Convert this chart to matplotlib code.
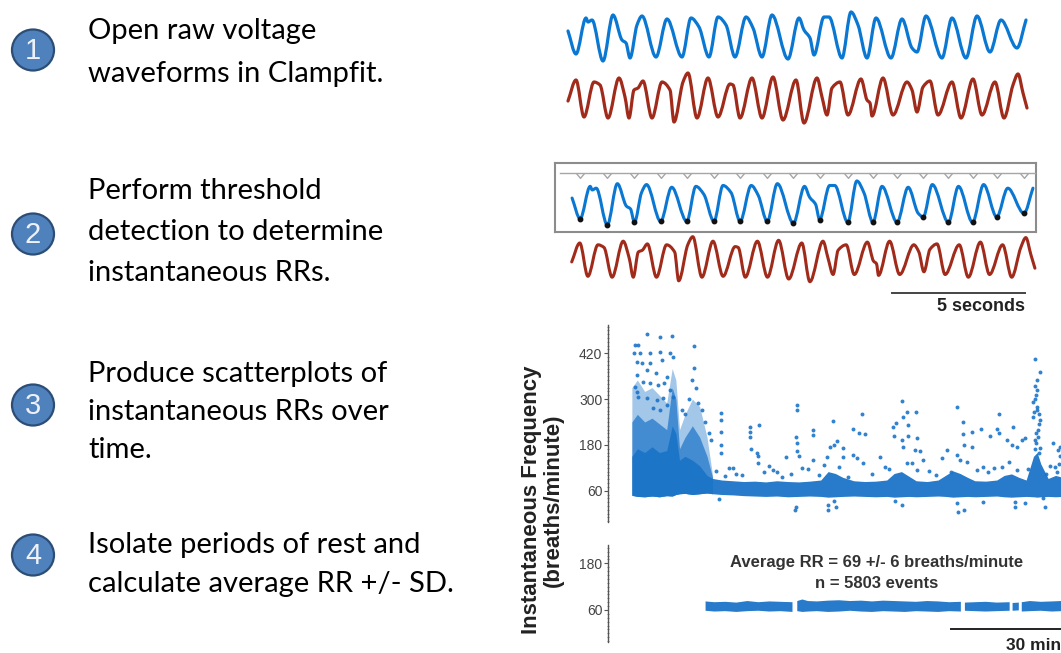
import numpy as np
import matplotlib
matplotlib.use('Agg')
import matplotlib.pyplot as plt
from matplotlib.patches import Ellipse, PathPatch
from matplotlib.path import Path
from matplotlib.ticker import MultipleLocator, FixedLocator

W, H = 1061, 653

# --- step list on the left ---
step_numbers = ['1', '2', '3', '4']
step_lines = [
    ['Open raw voltage', 'waveforms in Clampfit.'],
    ['Perform threshold', 'detection to determine', 'instantaneous RRs.'],
    ['Produce scatterplots of', 'instantaneous RRs over', 'time.'],
    ['Isolate periods of rest and', 'calculate average RR +/- SD.'],
]

# --- raw waveforms (arbitrary units) ---
blue_t = [13, 21, 31, 33, 37, 48, 58, 67, 71, 75, 82, 87, 101, 112, 127, 136, 144, 154, 163, 171,
          180, 191, 198, 207, 217, 233, 244, 249, 255, 259, 269, 274, 287, 296, 303, 312, 321, 336, 347, 357,
          362, 371, 387, 397, 411, 422, 435, 446, 462, 471]
blue_amp = [34, 11, 47, 43, 45, 4, 50, 25, 22, 7, 40, 49, 8, 46, 8, 47, 38, 8, 48, 40,
            8, 48, 37, 8, 50, 6, 47, 35, 27, 10, 48, 48, 7, 53, 40, 7, 47, 7, 46, 17,
            13, 49, 7, 47, 7, 49, 13, 45, 17, 45]
red_t = [13, 21, 29, 39, 45, 53, 64, 70, 74, 79, 83, 88, 97, 107, 115, 119, 128, 133, 142, 153,
         163, 175, 178, 185, 197, 207, 218, 228, 241, 249, 262, 267, 272, 277, 285, 293, 306, 312, 315, 317,
         328, 338, 352, 357, 362, 368, 375, 383, 397, 406, 418, 427, 440, 449, 458, 463, 468, 472]
red_amp = [24, 45, 8, 43, 40, 7, 47, 28, 7, 35, 37, 44, 7, 43, 35, 3, 43, 52, 7, 47,
           8, 41, 40, 7, 47, 7, 48, 5, 45, 2, 47, 28, 10, 37, 43, 10, 46, 25, 22, 9,
           47, 10, 43, 35, 13, 38, 44, 10, 43, 7, 46, 10, 43, 7, 40, 51, 32, 17]
detect_threshold = 20
threshold_trace_level = 62
units_per_sec = 26.4

# --- instantaneous frequency (minutes, breaths/minute) ---
core_t = [0.5, 2, 4, 6, 8, 10, 11.5, 12.5, 13.5, 15, 17, 19, 21, 22.5, 25, 28, 31, 34, 37, 40,
          43, 46, 49, 52, 54, 56, 58, 61, 64, 67, 70, 72, 74, 76, 78, 81, 84, 86, 88, 90,
          92, 94, 97, 100, 102, 104, 106, 108, 110, 111, 112, 114, 116, 118]
core_lo = [48, 45, 44, 46, 44, 47, 46, 50, 52, 53, 50, 52, 54, 52, 50, 49, 47, 46, 45, 46,
           44, 45, 46, 45, 43, 44, 45, 46, 45, 44, 45, 43, 44, 45, 44, 45, 46, 45, 43, 44,
           45, 44, 45, 46, 44, 43, 44, 45, 44, 43, 44, 45, 44, 45]
core_hi = [150, 170, 160, 175, 160, 165, 230, 210, 140, 150, 140, 125, 100, 92, 88, 86, 84, 85, 83, 86,
           84, 83, 85, 88, 110, 105, 95, 86, 84, 85, 88, 105, 110, 98, 86, 84, 88, 100, 112, 105,
           95, 86, 85, 88, 100, 104, 95, 88, 150, 160, 130, 92, 100, 95]
# sparser part of the early burst (same time points as the first 14 of core_t)
cloud_t = [0.5, 2, 4, 6, 8, 10, 11.5, 12.5, 13.5, 15, 17, 19, 21, 22.5]
cloud_mid = [240, 260, 240, 250, 235, 220, 330, 300, 170, 200, 230, 200, 150, 95]
cloud_top = [330, 350, 320, 330, 310, 290, 380, 350, 220, 260, 300, 280, 200, 100]

outlier_t = [1.4, 2.3, 4.5, 8.2, 11.4, 1.0, 2.7, 5.5, 8.2, 11.0, 11.8, 1.8, 3.2, 5.5, 8.6, 4.5, 1.8, 7.1,
             10.0, 3.5, 5.5, 7.5, 9.4, 1.4, 1.8, 2.3, 4.5, 7.3, 9.1, 10.9, 11.8, 6.4, 8.2, 10.0,
             17.5, 17.4, 17.0, 18.0, 16.0, 14.2, 19.5, 18.5, 20.5, 15.0, 21.5, 22.0,
             24.8, 24.8, 24.8, 24.8, 24.8, 24.3, 32.8, 32.8, 32.8, 35.2, 33.0, 35.0, 34.6, 35.0, 42.4,
             45.5, 45.5, 45.2, 45.5, 45.5, 46.0, 45.3, 45.0, 50.0, 50.0, 50.0, 47.0, 40.0, 29.0, 38.0, 27.0,
             55.4, 63.2, 60.9, 62.5, 64.1, 53.6, 54.5, 55.6, 56.3, 58.0, 58.2, 60.9, 62.0, 63.6, 68.2, 69.5,
             74.1, 75.6, 77.9, 74.5, 71.6, 72.5, 75.9, 72.0, 74.1, 74.3, 75.9, 78.2, 77.7, 79.1, 75.6, 76.8,
             78.2, 80.0, 89.1, 90.9, 93.2, 95.6, 90.9, 91.1, 93.2, 98.2, 100.0, 100.7, 100.7, 104.5, 102.7,
             104.1, 105.4, 106.8, 107.7, 110.4, 111.8, 110.4, 110.9, 110.0, 110.9, 110.0, 111.8, 111.3,
             110.4, 111.8, 115.4, 116.8, 115.9, 86.3, 85.0, 89.1, 90.0, 91.8, 94.5, 96.3, 99.1, 101.3,
             103.2, 105.4, 54.1, 54.1, 56.2, 55.6, 72.3, 74.1, 89.1, 89.5, 91.1, 96.3, 105.0, 105.0,
             107.7, 112.7, 113.2, 110.5, 111.0, 110.2, 111.5, 110.6, 111.2, 110.8, 111.4, 110.3, 111.0,
             110.7, 111.6, 117.3, 117.3, 117.0, 116.5,
             23.5, 26.0, 28.0, 30.5, 36.5, 39.0, 41.5, 44.0, 48.5, 51.5, 53.0, 57.0, 59.5, 66.0,
             70.5, 81.5, 83.5, 87.5, 97.5, 108.5, 113.5, 114.5]
outlier_val = [442, 442, 470, 462, 465, 420, 420, 420, 424, 420, 411, 398, 394, 394, 402, 376, 363, 367,
               359, 345, 341, 337, 341, 332, 319, 306, 302, 297, 302, 324, 306, 276, 271, 284,
               440, 381, 350, 330, 300, 271, 271, 290, 240, 260, 210, 193,
               264, 245, 215, 180, 159, 38, 228, 215, 201, 233, 170, 150, 160, 132, 149,
               284, 271, 200, 185, 165, 150, 18, 10, 219, 206, 141, 120, 110, 105, 125, 120,
               243, 261, 222, 212, 208, 149, 175, 180, 189, 171, 149, 154, 145, 132, 147, 123,
               296, 265, 265, 252, 228, 237, 232, 203, 193, 175, 202, 197, 167, 165, 132, 132,
               114, 141, 278, 239, 215, 221, 209, 180, 175, 203, 221, 261, 210, 226, 193,
               180, 174, 193, 197, 405, 370, 333, 324, 293, 271, 254, 245, 219,
               193, 171, 184, 167, 123, 167, 145, 154, 141, 136, 114, 123, 119, 123,
               136, 114, 23, 10, 17, 34, 34, 23, 27, 5, 10, 31, 31, 18,
               27, 40, 18, 300, 280, 265, 235, 210, 200, 185, 160, 170, 350,
               310, 260, 175, 150, 130, 110,
               112, 98, 120, 102, 108, 115, 96, 104, 118, 100, 128, 122, 96, 104,
               118, 112, 100, 108, 110, 118, 104, 125]

# resting periods only
rest_t = [20.6, 23, 26, 29, 32, 35, 38, 41, 44.3, 45.0, 45.6, 47, 48.5, 51, 54, 57, 60, 63, 66, 69,
          72, 75, 78, 81, 84, 87, 90.2, 90.8, 91.3, 94, 97, 100, 103.5, 103.9, 104.3, 106, 106.4, 106.8, 109, 112,
          115, 117.5]
rest_lo = [58, 56, 57, 55, 57, 58, 56, 57, 55, np.nan, 57, 55, 56, 57, 55, 56, 58, 56, 55, 57,
           56, 55, 57, 56, 55, 57, 56, np.nan, 58, 57, 56, 57, 58, np.nan, 58, 59, np.nan, 56, 57, 58,
           56, 57]
rest_hi = [82, 80, 81, 79, 83, 80, 82, 81, 80, np.nan, 83, 87, 83, 82, 84, 85, 83, 84, 82, 84,
           83, 82, 81, 83, 82, 80, 81, np.nan, 79, 80, 81, 79, 80, np.nan, 78, 79, np.nan, 80, 83, 81,
           82, 83]
rest_mean, rest_sd, rest_n = 69, 6, 5803

BLUE = '#0a78d2'
RED = '#a12b1b'
DOT = '#1b74c8'


def add_px_axes(fig, x0, y0, x1, y1):
    # axes placed by pixel box (top-left origin)
    ax = fig.add_axes([x0 / W, 1 - y1 / H, (x1 - x0) / W, (y1 - y0) / H])
    ax.set_facecolor('none')
    return ax


def smooth_trace(ax, t, a, color, lw=2.3):
    # monotone cubic through the read points, drawn as bezier segments
    t = np.asarray(t, float)
    a = np.asarray(a, float)
    h = np.diff(t)
    m = np.diff(a) / h
    d = np.zeros_like(a)
    for k in range(1, len(a) - 1):
        if m[k - 1] * m[k] > 0:
            d[k] = 2 / (1 / m[k - 1] + 1 / m[k])
    d[0], d[-1] = m[0], m[-1]
    verts = [(t[0], a[0])]
    codes = [Path.MOVETO]
    for i in range(len(t) - 1):
        verts += [(t[i] + h[i] / 3, a[i] + d[i] * h[i] / 3),
                  (t[i + 1] - h[i] / 3, a[i + 1] - d[i + 1] * h[i] / 3),
                  (t[i + 1], a[i + 1])]
        codes += [Path.CURVE4] * 3
    ax.add_patch(PathPatch(Path(verts, codes), fill=False, edgecolor=color, lw=lw,
                           capstyle='round', joinstyle='round'))


fig = plt.figure(figsize=(W / 100, H / 100), dpi=100)
bg = fig.add_axes([0, 0, 1, 1])
bg.set_xlim(0, W)
bg.set_ylim(H, 0)
bg.axis('off')

# --- left column ---
circle_y = [50, 234, 405, 555]
baselines = [[39, 82], [199, 240, 281], [382, 420, 458], [553, 592]]
for num, lines, cy, bls in zip(step_numbers, step_lines, circle_y, baselines):
    bg.add_patch(Ellipse((33, cy), 42, 41, facecolor='#4f81bd', edgecolor='#2c4d75', lw=1.6))
    bg.text(33, cy + 1, num, ha='center', va='center', fontsize=21, color='#eef2f8',
            family='Liberation Sans')
    for txt, by in zip(lines, bls):
        bg.text(88, by, txt, ha='left', va='baseline', fontsize=21, color='black', family='Lato')

# --- step 1: raw traces ---
ax_b1 = add_px_axes(fig, 555, 5, 1035, 65)
smooth_trace(ax_b1, blue_t, blue_amp, BLUE)
ax_b1.set_xlim(0, 480)
ax_b1.set_ylim(0, 60)
ax_b1.axis('off')

ax_r1 = add_px_axes(fig, 555, 65, 1035, 125)
smooth_trace(ax_r1, red_t, red_amp, RED)
ax_r1.set_xlim(0, 480)
ax_r1.set_ylim(0, 60)
ax_r1.axis('off')

# --- step 2: threshold detection ---
ax_box = add_px_axes(fig, 555, 163, 1036, 232)
ax_box.set_xticks([])
ax_box.set_yticks([])
for sp in ax_box.spines.values():
    sp.set_color('#8c8c8c')
    sp.set_linewidth(1.5)

ax_b2 = add_px_axes(fig, 559, 165.7, 1042, 228.6)
smooth_trace(ax_b2, blue_t, blue_amp, BLUE, lw=2.2)
ba = np.array(blue_amp)
bt = np.array(blue_t)
is_min = np.zeros(len(ba), dtype=bool)
is_min[1:-1] = (ba[1:-1] < ba[:-2]) & (ba[1:-1] < ba[2:]) & (ba[1:-1] < detect_threshold)
ax_b2.plot(bt[is_min], ba[is_min], 'o', color='#111111', ms=3.2, zorder=5)
vmark = Path([(-1, 0), (0, -1.2), (1, 0)], [Path.MOVETO, Path.LINETO, Path.LINETO])
ax_b2.plot([1, 473], [threshold_trace_level] * 2, color='#a6a6a6', lw=1.0)
ax_b2.plot(bt[is_min], [threshold_trace_level] * is_min.sum(), linestyle='none', marker=vmark,
           ms=7, mfc='none', mec='#a6a6a6', mew=1.0)
ax_b2.set_xlim(0, 480)
ax_b2.set_ylim(0, 70)
ax_b2.axis('off')

ax_r2 = add_px_axes(fig, 558.6, 229.5, 1043, 283.5)
smooth_trace(ax_r2, red_t, red_amp, RED, lw=2.2)
ax_r2.set_xlim(0, 480)
ax_r2.set_ylim(0, 60)
ax_r2.axis('off')
bar_end = 462
ax_r2.plot([bar_end - 5 * units_per_sec, bar_end], [-11, -11], color='#444444', lw=1.4, clip_on=False)
ax_r2.text(bar_end, -26, '5 seconds', ha='right', va='center', fontsize=13, fontweight='bold',
           color='#222222', family='Liberation Sans', clip_on=False)


def style_freq_axis(ax, ticks, ylim):
    ax.set_xlim(-6, 117.5)
    ax.set_ylim(*ylim)
    for s in ['top', 'right', 'bottom']:
        ax.spines[s].set_visible(False)
    ax.spines['left'].set_color('#555555')
    ax.spines['left'].set_linewidth(1.0)
    ax.set_xticks([])
    ax.yaxis.set_major_locator(FixedLocator(ticks))
    ax.yaxis.set_minor_locator(MultipleLocator(10))
    ax.tick_params(axis='y', which='major', length=3, width=0.8, color='#555555', pad=1,
                   labelsize=10, labelcolor='#444444')
    ax.tick_params(axis='y', which='minor', length=2, width=0.6, color='#777777', direction='inout')
    for lab in ax.get_yticklabels():
        lab.set_family('Liberation Sans')


# --- step 3: scatter over time ---
n_cloud = len(cloud_t)
ax_top = add_px_axes(fig, 608, 325, 1061, 522)
ax_top.fill_between(cloud_t, core_lo[:n_cloud], cloud_top, color=DOT, alpha=0.4, lw=0)
ax_top.fill_between(cloud_t, core_lo[:n_cloud], cloud_mid, color=DOT, alpha=0.7, lw=0)
ax_top.fill_between(core_t, core_lo, core_hi, color=DOT, alpha=0.95, lw=0)
ax_top.scatter(outlier_t, outlier_val, s=8, color=DOT, linewidths=0, alpha=0.9)
style_freq_axis(ax_top, [60, 180, 300, 420], (-22, 494))

# --- step 4: resting periods ---
ax_bot = add_px_axes(fig, 608, 545, 1061, 641.7)
ax_bot.fill_between(rest_t, rest_lo, rest_hi, color=DOT, alpha=0.95, lw=0)
style_freq_axis(ax_bot, [60, 180], (-21.5, 227))
ax_bot.plot([117.5 - 30, 117.5], [11, 11], color='#222222', lw=1.4, clip_on=False)
ax_bot.text(117.5, -32.5, '30 min', ha='right', va='center', fontsize=12.5, fontweight='bold',
            color='#222222', family='Liberation Sans', clip_on=False)

bg.text(877, 563, f'Average RR = {rest_mean} +/- {rest_sd} breaths/minute', ha='center', va='center',
        fontsize=12, fontweight='bold', color='#333333', family='Liberation Sans')
bg.text(877, 584, f'n = {rest_n} events', ha='center', va='center',
        fontsize=12, fontweight='bold', color='#333333', family='Liberation Sans')

bg.text(542, 500, 'Instantaneous Frequency\n(breaths/minute)', rotation=90, ha='center', va='center',
        multialignment='center', fontsize=16, fontweight='bold', color='#222222',
        family='Liberation Sans', linespacing=1.05)

fig.savefig('out.png', dpi=100)
